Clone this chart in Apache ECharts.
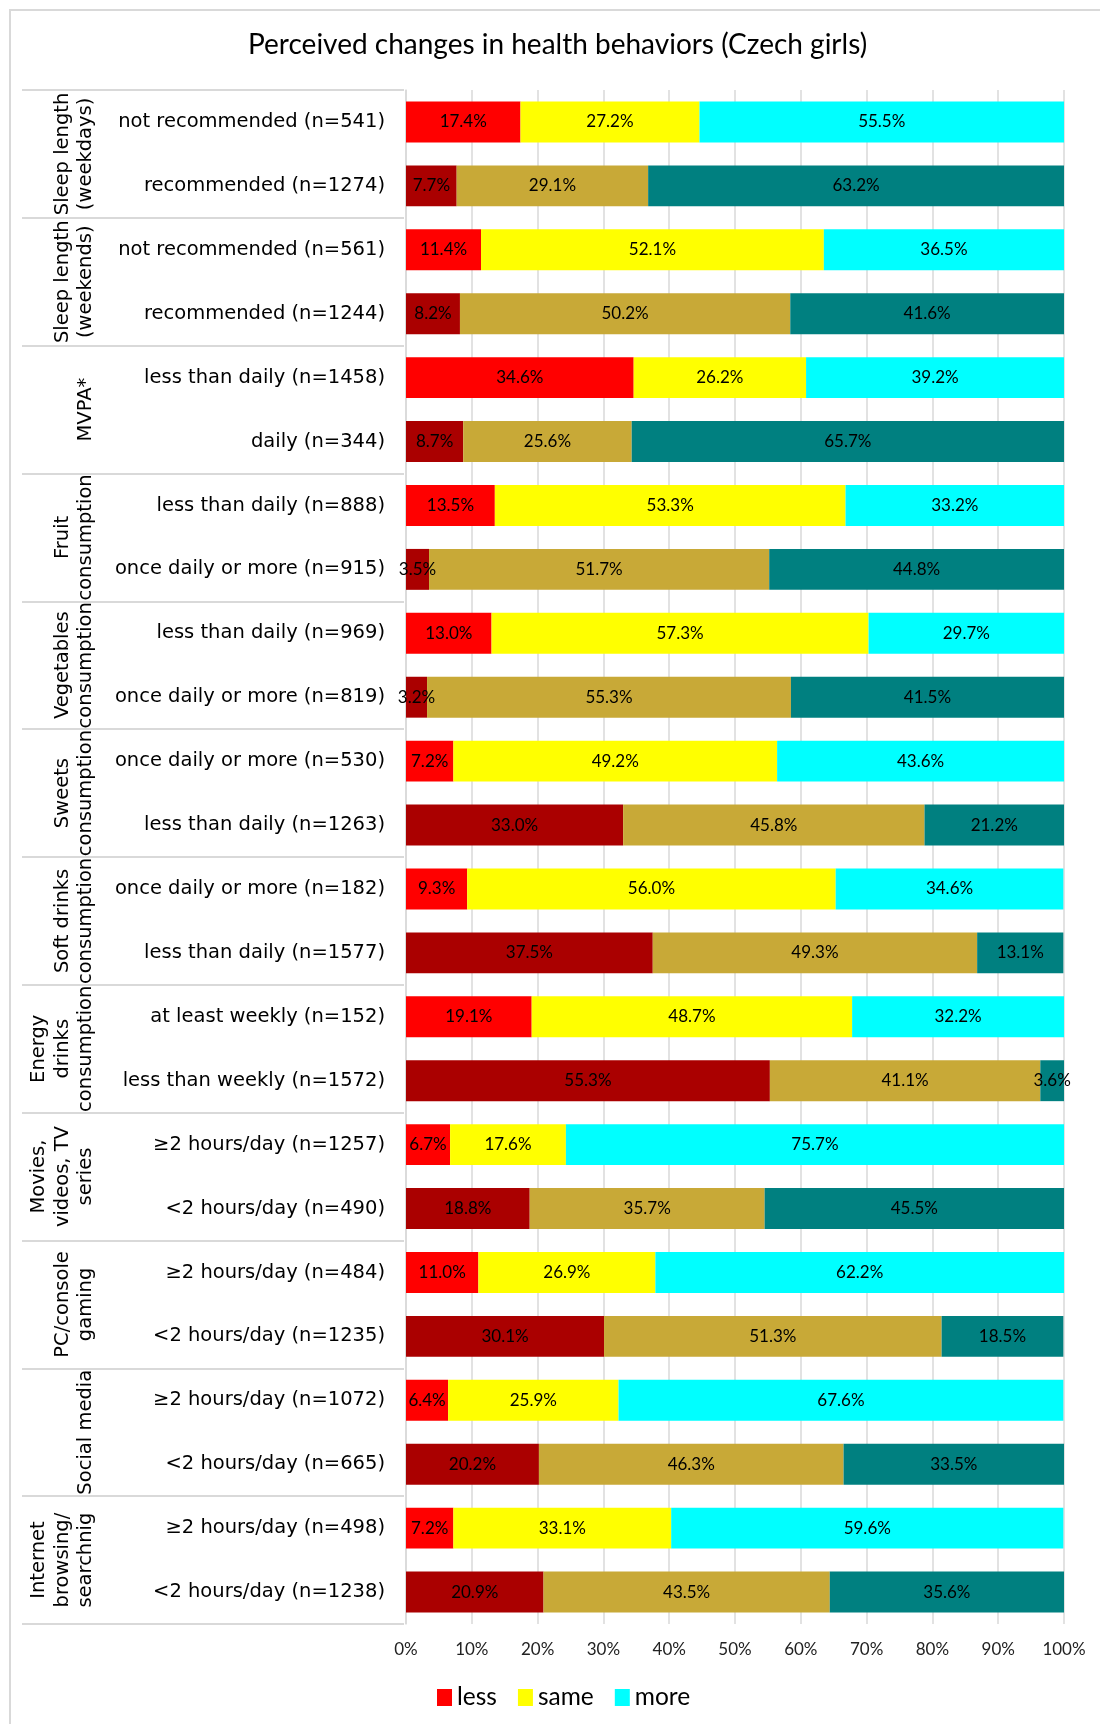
<!DOCTYPE html>
<html>
<head>
<meta charset="utf-8">
<script src="https://cdn.jsdelivr.net/npm/echarts@6/dist/echarts.min.js"></script>
<style>
  html, body { margin: 0; padding: 0; background: #fff; overflow: hidden; }
  #frame {
    position: absolute; left: 9px; top: 9px; width: 1200px; height: 1800px;
    border-left: 2px solid #d9d9d9; border-top: 2px solid #d9d9d9;
  }
  #chart { position: absolute; left: 0; top: 0; width: 1100px; height: 1724px; }
</style>
</head>
<body>
<div id="frame"></div>
<div id="chart"></div>
<script>
// groups on the left, each one covers two rows
const groups = [
  'Sleep length\n(weekdays)', 'Sleep length\n(weekends)', 'MVPA*',
  'Fruit\nconsumption', 'Vegetables\nconsumption', 'Sweets\nconsumption',
  'Soft drinks\nconsumption', 'Energy\ndrinks\nconsumption',
  'Movies,\nvideos, TV\nseries', 'PC/console\ngaming', 'Social media',
  'Internet\nbrowsing/\nsearchnig'
];

const rows = [
  'not recommended (n=541)', 'recommended (n=1274)',
  'not recommended (n=561)', 'recommended (n=1244)',
  'less than daily (n=1458)', 'daily (n=344)',
  'less than daily (n=888)', 'once daily or more (n=915)',
  'less than daily (n=969)', 'once daily or more (n=819)',
  'once daily or more (n=530)', 'less than daily (n=1263)',
  'once daily or more (n=182)', 'less than daily (n=1577)',
  'at least weekly (n=152)', 'less than weekly (n=1572)',
  '≥2 hours/day (n=1257)', '<2 hours/day (n=490)',
  '≥2 hours/day (n=484)', '<2 hours/day (n=1235)',
  '≥2 hours/day (n=1072)', '<2 hours/day (n=665)',
  '≥2 hours/day (n=498)', '<2 hours/day (n=1238)'
];

const less = [17.4, 7.7, 11.4, 8.2, 34.6, 8.7, 13.5, 3.5, 13.0, 3.2, 7.2, 33.0,
              9.3, 37.5, 19.1, 55.3, 6.7, 18.8, 11.0, 30.1, 6.4, 20.2, 7.2, 20.9];
const same = [27.2, 29.1, 52.1, 50.2, 26.2, 25.6, 53.3, 51.7, 57.3, 55.3, 49.2, 45.8,
              56.0, 49.3, 48.7, 41.1, 17.6, 35.7, 26.9, 51.3, 25.9, 46.3, 33.1, 43.5];
const more = [55.5, 63.2, 36.5, 41.6, 39.2, 65.7, 33.2, 44.8, 29.7, 41.5, 43.6, 21.2,
              34.6, 13.1, 32.2, 3.6, 75.7, 45.5, 62.2, 18.5, 67.6, 33.5, 59.6, 35.6];

const seriesNames = ['less', 'same', 'more'];
const brightColors = ['#ff0000', '#ffff00', '#00ffff'];
const darkColors = ['#aa0000', '#c8a937', '#008080'];

const chart = echarts.init(document.getElementById('chart'));

const gridColor = '#d9d9d9';

function makeSeries(idx, values) {
  return {
    name: seriesNames[idx],
    type: 'bar',
    stack: 'all',
    barWidth: '64%',
    itemStyle: { color: brightColors[idx] },
    label: {
      show: true,
      position: 'inside',
      color: '#000',
      fontFamily: 'Lato',
      fontSize: 17,
      textBorderWidth: 0,
      formatter: p => p.value.toFixed(1) + '%'
    },
    // second row of each group gets the darker shade
    data: values.map((v, i) => i % 2 === 1
      ? { value: v, itemStyle: { color: darkColors[idx] } }
      : v)
  };
}

const option = {
  animation: false,
  title: {
    text: 'Perceived changes in health behaviors (Czech girls)',
    left: 243,
    top: 26,
    textStyle: { fontFamily: 'Lato', fontSize: 28, fontWeight: 'normal', color: '#000' }
  },
  legend: {
    data: seriesNames,
    left: 432,
    top: 1680,
    icon: 'rect',
    itemWidth: 15,
    itemHeight: 17,
    itemGap: 21,
    textStyle: { fontFamily: 'Lato', fontSize: 24.5, color: '#000' }
  },
  grid: {
    left: 406, right: 36, top: 90, bottom: 100,
    outerBoundsMode: 'none'
  },
  xAxis: {
    type: 'value',
    min: 0,
    max: 100,
    interval: 10,
    axisLine: { show: false },
    axisTick: { show: false },
    splitLine: { show: true, lineStyle: { color: gridColor, width: 1.5 } },
    axisLabel: {
      formatter: '{value}%',
      margin: 17,
      fontFamily: 'Lato',
      fontSize: 17,
      color: '#222'
    }
  },
  yAxis: [
    {
      type: 'category',
      data: rows,
      inverse: true,
      axisLine: { show: true, lineStyle: { color: gridColor, width: 1.5 } },
      axisTick: { show: false },
      axisLabel: {
        interval: 0,
        margin: 21,
        fontFamily: 'DejaVu Sans',
        fontSize: 19.5,
        color: '#000'
      }
    },
    {
      type: 'category',
      data: groups,
      inverse: true,
      position: 'left',
      offset: 2,
      axisLine: { show: false },
      axisTick: {
        show: true,
        interval: 0,
        length: 382,
        lineStyle: { color: gridColor, width: 2 }
      },
      axisLabel: {
        interval: 0,
        rotate: 90,
        margin: 306,
        lineHeight: 23.5,
        fontFamily: 'DejaVu Sans',
        fontSize: 19.5,
        color: '#000'
      }
    }
  ],
  series: [
    makeSeries(0, less),
    makeSeries(1, same),
    makeSeries(2, more)
  ]
};

chart.setOption(option);
</script>
</body>
</html>
